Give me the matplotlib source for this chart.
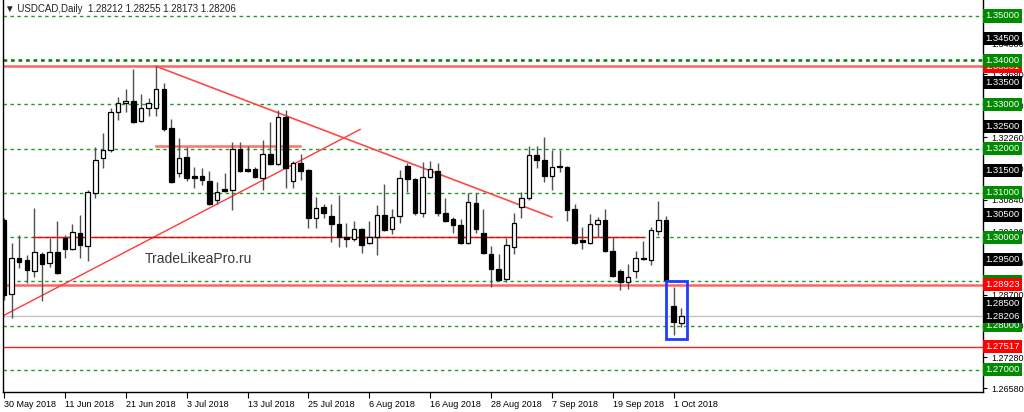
import numpy as np
import pandas as pd
import matplotlib
matplotlib.use('Agg')
import matplotlib.pyplot as plt
import matplotlib.patches as patches

plt.rcParams['font.family'] = ['Liberation Sans', 'DejaVu Sans']

# daily USDCAD bars, 30 May 2018 .. 2 Oct 2018
opens = [1.30390, 1.28718, 1.29531, 1.29486, 1.29237, 1.29622, 1.29418, 1.29667, 1.29983, 1.29735,
         1.30096, 1.29802, 1.31000, 1.31791, 1.31972, 1.32831, 1.33034, 1.33079, 1.32627, 1.32921,
         1.32921, 1.33351, 1.32469, 1.31452, 1.31814, 1.31384, 1.31384, 1.31271, 1.30842, 1.31091,
         1.31068, 1.31995, 1.31543, 1.31543, 1.31339, 1.31882, 1.31656, 1.32718, 1.31271, 1.31678,
         1.31520, 1.30435, 1.30684, 1.30480, 1.30300, 1.30006, 1.29961, 1.30187, 1.29870, 1.30006,
         1.30503, 1.30187, 1.30480, 1.31610, 1.31317, 1.30548, 1.31362, 1.31497, 1.30548, 1.30413,
         1.30277, 1.29870, 1.30774, 1.30096, 1.29622, 1.29283, 1.29057, 1.29780, 1.30684, 1.30887,
         1.31859, 1.31746, 1.31384, 1.31610, 1.31588, 1.30639, 1.29938, 1.29870, 1.30300, 1.30390,
         1.29689, 1.29237, 1.28989, 1.29237, 1.29531, 1.29486, 1.30141, 1.30390, 1.28446, 1.28062]
highs = [1.30435, 1.29870, 1.30051, 1.29599, 1.30661, 1.29667, 1.29983, 1.30367, 1.30051, 1.30300,
         1.30503, 1.31068, 1.32040, 1.32356, 1.32921, 1.33170, 1.33351, 1.33803, 1.33238, 1.33147,
         1.33861, 1.33486, 1.32673, 1.32243, 1.32040, 1.31588, 1.31565, 1.31497, 1.31249, 1.31452,
         1.32153, 1.32153, 1.32062, 1.31588, 1.32198, 1.32605, 1.32876, 1.32876, 1.31723, 1.31882,
         1.31543, 1.30910, 1.30752, 1.30752, 1.30955, 1.30322, 1.30367, 1.30209, 1.30367, 1.30729,
         1.31204, 1.30639, 1.31520, 1.31678, 1.31339, 1.31701, 1.31723, 1.31678, 1.30887, 1.30458,
         1.30413, 1.31000, 1.31000, 1.30639, 1.29802, 1.29622, 1.29983, 1.30548, 1.31023, 1.32062,
         1.32062, 1.32266, 1.31972, 1.31972, 1.31610, 1.30752, 1.30232, 1.30526, 1.30458, 1.30639,
         1.30006, 1.29283, 1.29396, 1.29689, 1.29915, 1.30232, 1.30819, 1.30480, 1.28876, 1.28401]
lows = [1.28582, 1.28175, 1.29305, 1.28966, 1.29102, 1.28559, 1.29328, 1.29170, 1.29531, 1.29712,
        1.29531, 1.29463, 1.30887, 1.31565, 1.31927, 1.32650, 1.32831, 1.32582, 1.32605, 1.32740,
        1.32740, 1.32401, 1.31226, 1.31362, 1.31271, 1.31113, 1.31181, 1.30729, 1.30752, 1.31023,
        1.30616, 1.31475, 1.31475, 1.31339, 1.31068, 1.31633, 1.31633, 1.31113, 1.31113, 1.31294,
        1.30209, 1.30209, 1.30435, 1.29893, 1.29780, 1.29780, 1.29915, 1.29644, 1.29848, 1.29599,
        1.30141, 1.30074, 1.30322, 1.31023, 1.30503, 1.30458, 1.31339, 1.30480, 1.30345, 1.30096,
        1.29848, 1.29848, 1.30096, 1.29622, 1.28876, 1.29011, 1.28989, 1.29622, 1.30435, 1.30842,
        1.31565, 1.31249, 1.31068, 1.31475, 1.30367, 1.29848, 1.29735, 1.29848, 1.30006, 1.29667,
        1.29102, 1.28808, 1.28831, 1.29079, 1.29486, 1.29373, 1.30051, 1.29011, 1.27791, 1.27972]
closes = [1.28695, 1.29531, 1.29441, 1.29260, 1.29667, 1.29396, 1.29667, 1.29192, 1.29735, 1.30119,
          1.29825, 1.31023, 1.31746, 1.31972, 1.32831, 1.33034, 1.33079, 1.32605, 1.32921, 1.33034,
          1.33351, 1.32447, 1.31249, 1.31791, 1.31339, 1.31339, 1.31294, 1.30752, 1.31023, 1.31045,
          1.31995, 1.31497, 1.31497, 1.31362, 1.31882, 1.31656, 1.32718, 1.31565, 1.31678, 1.31497,
          1.30435, 1.30661, 1.30548, 1.30300, 1.30006, 1.29961, 1.30187, 1.29825, 1.30006, 1.30503,
          1.30164, 1.30458, 1.31339, 1.31317, 1.30548, 1.31362, 1.31543, 1.30548, 1.30367, 1.30277,
          1.29870, 1.30797, 1.30187, 1.29644, 1.29283, 1.29034, 1.29825, 1.30322, 1.30887, 1.31859,
          1.31746, 1.31384, 1.31588, 1.31588, 1.30616, 1.29870, 1.29893, 1.30300, 1.30390, 1.29689,
          1.29124, 1.28989, 1.29102, 1.29531, 1.29509, 1.30164, 1.30390, 1.29034, 1.28085, 1.28206]
dates = pd.bdate_range('2018-05-30', periods=len(opens))

title = u'\u25bc USDCAD,Daily  1.28212 1.28255 1.28173 1.28206'
current_price = 1.28206

# horizontal levels
green_levels = [1.35, 1.34, 1.33, 1.32, 1.31, 1.30, 1.29, 1.28, 1.27]
black_levels = [1.345, 1.335, 1.325, 1.315, 1.305, 1.295, 1.285]
red_levels_thick = [1.33861, 1.28923]
red_levels_thin = [1.27517]
scale_ticks = [1.26580, 1.27280, 1.27990, 1.28700, 1.29420, 1.30120, 1.30840,
               1.31550, 1.32260, 1.32970, 1.33680, 1.34380]

# drawn objects (bar index, price)
up_trend = ([0, 46.8], [1.28232, 1.32435])
down_trend = ([20, 72], [1.33861, 1.30451])
seg_low = ([3.8, 84], [1.30013, 1.30013])
seg_high = ([20, 38.9], [1.32056, 1.32056])
box_bars = (86.96, 89.8)
box_prices = (1.27701, 1.29000)

W, H = 1024, 412
fig = plt.figure(figsize=(W/100., H/100.), dpi=100)
ax = fig.add_axes([3./W, 20./H, 980./W, 392./H])
ax.set_xlim(-0.131, 128.65)
ax.set_ylim(1.264972, 1.353616)

x = np.arange(len(opens))
o = np.array(opens); c = np.array(closes)
hi = np.array(highs); lo = np.array(lows)

for lv in green_levels:
    if lv == 1.34:
        ax.axhline(lv, color='#007a00', lw=1.8, ls=(0, (1.5, 1.5)), zorder=1)
    else:
        ax.axhline(lv, color='#229922', lw=1, ls=(0, (2.5, 2.5)), zorder=1)
for lv in red_levels_thick:
    ax.axhline(lv, color='#ff6464', lw=1.8, zorder=1)
for lv in red_levels_thin:
    ax.axhline(lv, color='#ff2020', lw=1, zorder=1)
ax.axhline(current_price, color='#c4c4c4', lw=1, zorder=1)

ax.plot(*up_trend, color='#ff3a3a', lw=1, zorder=1.5)
ax.plot(*down_trend, color='#ff4848', lw=1.2, zorder=1.5)
ax.plot(*seg_low, color='#ff0000', lw=1, zorder=1.5)
ax.plot(*seg_high, color='#ff7070', lw=1.8, zorder=1.5)

# candles
ax.vlines(x, lo, hi, color='#505050', lw=1, zorder=2)
up = c >= o
ax.bar(x[up], (c - o)[up], bottom=o[up], width=0.6, color='white',
       edgecolor='black', linewidth=0.9, zorder=3)
ax.bar(x[~up], (o - c)[~up], bottom=c[~up], width=0.6, color='black',
       edgecolor='black', linewidth=0.9, zorder=3)

ax.add_patch(patches.Rectangle((box_bars[0], box_prices[0]), box_bars[1] - box_bars[0],
                               box_prices[1] - box_prices[0], fill=False,
                               edgecolor='#1f3fff', lw=2, zorder=4))

ax.text(18.5, 1.29509, 'TradeLikeaPro.ru', fontsize=10, color='#3a3a3a',
        ha='left', va='center', zorder=4)

# axes look
ax.spines['top'].set_visible(False)
for s in ['left', 'bottom', 'right']:
    ax.spines[s].set_linewidth(1)
ax.yaxis.tick_right()
ax.set_yticks(scale_ticks)
ax.set_yticklabels(['%.5f' % t for t in scale_ticks])
ax.tick_params(axis='y', direction='out', length=3, pad=3, labelsize=6.5, width=0.8)
xt = x[::8]
ax.set_xticks(xt)
ax.set_xticklabels(['%d %s' % (dates[i].day, dates[i].strftime('%b %Y')) for i in xt],
                   ha='left')
ax.tick_params(axis='x', direction='out', length=4, pad=2, labelsize=6.5, width=0.8)

def level_box(lv, fc, z):
    ax.text(1.0025, lv, '%.5f' % lv, transform=ax.get_yaxis_transform(), ha='left', va='center',
            fontsize=6.8, color='white', clip_on=False, zorder=z,
            bbox=dict(boxstyle='square,pad=0.22', fc=fc, ec='none'))

level_box(1.33861, '#ff0000', 5)
for lv in green_levels:
    level_box(lv, '#008a00', 6)
for lv in black_levels:
    level_box(lv, '#000000', 6)
level_box(1.28923, '#ff0000', 7)
level_box(1.27517, '#ff0000', 7)
level_box(current_price, '#000000', 7)

fig.text(5./W, 1 - 9./H, title, fontsize=7, ha='left', va='center', color='#222222')

plt.savefig('out.png', dpi=100)
